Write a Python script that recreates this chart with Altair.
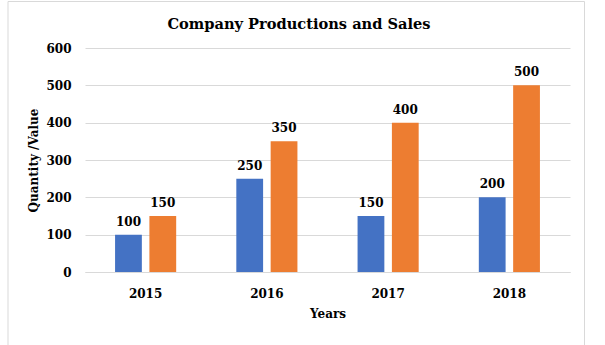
import altair as alt
import pandas as pd

title_text = ["Company Productions and Sales"]
years = ["2015", "2016", "2017", "2018"]
series = ["Production", "Sales"]
production = [100, 250, 150, 200]
sales = [150, 350, 400, 500]
y_ticks = [0, 100, 200, 300, 400, 500, 600]

rows = []
for i, yr in enumerate(years):
    rows.append({"Year": yr, "Series": series[0], "Value": production[i]})
    rows.append({"Year": yr, "Series": series[1], "Value": sales[i]})
df = pd.DataFrame(rows)

FONT = "DejaVu Serif"
W, H = 485, 224

axis_style = dict(labelFont=FONT, labelFontWeight="bold", labelFontSize=12,
                  labelColor="#000000", titleFont=FONT, titleFontWeight="bold",
                  titleFontSize=12, titleColor="#000000")

x_enc = alt.X("Year:N", sort=years,
              scale=alt.Scale(paddingInner=0.496, paddingOuter=0.248),
              axis=alt.Axis(title="Years", labelAngle=0, ticks=False,
                            domainColor="#d9d9d9", labelPadding=16,
                            titlePadding=9, grid=False, **axis_style))
xo = alt.XOffset("Series:N", sort=series,
                 scale=alt.Scale(paddingInner=0.22, paddingOuter=0))
y_enc = alt.Y("Value:Q", scale=alt.Scale(domain=[0, 600], nice=False),
              axis=alt.Axis(title="Quantity /Value", values=y_ticks,
                            domain=False, ticks=False, gridColor="#d9d9d9",
                            labelPadding=14, titlePadding=5,
                            labelOverlap=False, **axis_style))
color = alt.Color("Series:N", sort=series,
                  scale=alt.Scale(domain=series, range=["#4472C4", "#ED7D31"]),
                  legend=None)

bars = alt.Chart(df).mark_bar().encode(x=x_enc, xOffset=xo, y=y_enc, color=color)
labels = alt.Chart(df).mark_text(baseline="alphabetic", dy=-9, font=FONT,
                                 fontWeight="bold", fontSize=12, color="#000000").encode(
    x=x_enc, xOffset=xo, y=y_enc, text="Value:Q")

border = alt.Chart(alt.Data(values=[{}])).mark_rect(
    fill=None, stroke="#d9d9d9", strokeWidth=1).encode(
    x=alt.value(8 - 85), x2=alt.value(584.5 - 85),
    y=alt.value(1.5 - 48), y2=alt.value(360))

title = alt.Chart(alt.Data(values=[{"t": title_text[0]}])).mark_text(
    font=FONT, fontSize=14.6, fontWeight="bold", color="#000000",
    align="center", baseline="alphabetic").encode(
    x=alt.value(299 - 85), y=alt.value(28.5 - 48), text="t:N")

chart = alt.layer(border, bars, labels, title).properties(
    width=W, height=H,
    padding={"left": 85, "top": 48, "right": 20, "bottom": 73},
    autosize=alt.AutoSizeParams(type="none"),
).configure(background="white").configure_view(stroke=None)

chart.save("out.html", embed_options={"renderer": "svg", "actions": False})
